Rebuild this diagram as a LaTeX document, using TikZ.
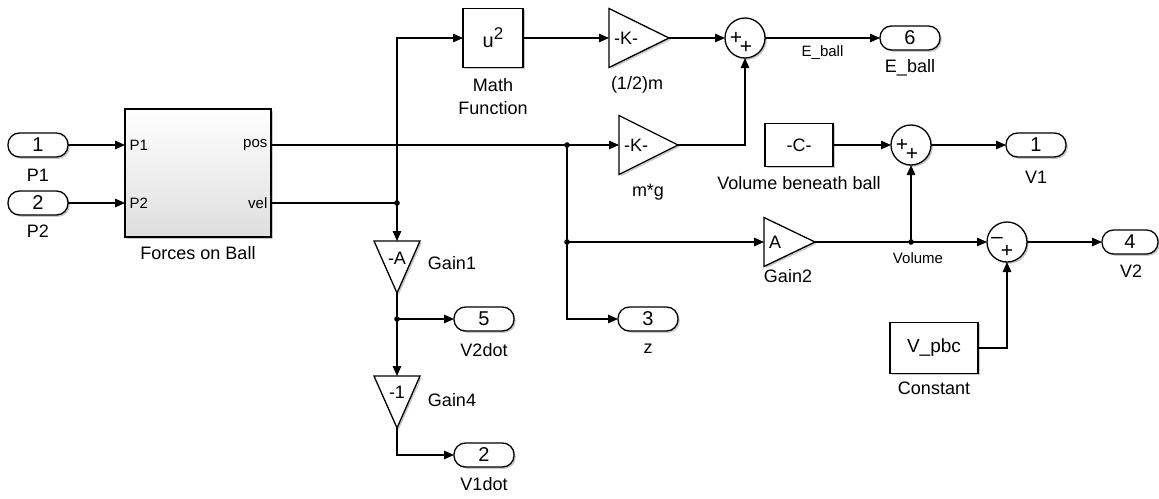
\documentclass[tikz,border=0pt]{standalone}
\usepackage{fontspec}
\setmainfont{Liberation Sans}
\usetikzlibrary{arrows.meta,shapes.geometric,shadows,calc}
\begin{document}
\begin{tikzpicture}[x=1pt,y=-1pt,
  line width=1.3pt,
  sig/.style={-{Triangle[length=10pt,width=8.5pt]}},
  shad/.style={drop shadow={shadow xshift=1.8pt,shadow yshift=-1.8pt,opacity=0.3,fill=black!70}},
  blk/.style={draw,fill=white,shad,inner sep=0pt,outer sep=0pt},
  port/.style={blk,rounded corners=11.5pt,minimum width=60pt,minimum height=24pt,font=\fontsize{20}{20}\selectfont},
  sumblk/.style={blk,circle,minimum size=40pt},
  gain/.style={draw,fill=white,shad,isosceles triangle,isosceles triangle stretches,inner sep=0pt,outer sep=0pt,anchor=lower side},
  gtxt/.style={inner sep=0pt,font=\fontsize{18}{18}\selectfont},
  lbl/.style={inner sep=0pt,font=\fontsize{18}{23}\selectfont},
  small/.style={inner sep=0pt,font=\fontsize{15}{15}\selectfont},
  sgn/.style={inner sep=0pt,font=\fontsize{21}{21}\selectfont}
]
\useasboundingbox (0,0) rectangle (1159,498);

% inports
\node[port] (in1) at (38,145) {1};
\node[port] (in2) at (38,203) {2};
\node[lbl] (in1l) at (38,175) {P1};
\node[lbl] (in2l) at (38,231) {P2};

% Forces on Ball
\node[draw,shad,top color=white,bottom color=black!13,inner sep=0pt,outer sep=0pt,minimum width=146pt,minimum height=128pt] (fob) at (198,173) {};
\node[small,anchor=west] (fp1) at (129,145) {P1};
\node[small,anchor=west] (fp2) at (129,203) {P2};
\node[small,anchor=east] (fpos) at (268,145) {pos};
\node[small,anchor=east] (fvel) at (268,203) {vel};
\node[lbl] (fobl) at (198,253) {Forces on Ball};

% Math function and gains
\node[blk,minimum width=60pt,minimum height=59pt,font=\fontsize{20}{20}\selectfont] (mathf) at (493,38) {u\raisebox{8pt}{\fontsize{17}{17}\selectfont 2}};
\node[lbl,align=center] (mathl) at (493,97) {Math\\Function};

\node[gain,minimum width=59pt,minimum height=60pt] (half) at (609,38) {};
\node[gtxt] (halft) at (626,38) {-K-};
\node[lbl] (halfl) at (637,85) {(1/2)m};

\node[gain,minimum width=59pt,minimum height=59pt] (mg) at (619,145) {};
\node[gtxt] (mgt) at (636,145) {-K-};
\node[lbl] (mgl) at (648,192) {m*g};

\node[gain,minimum width=49pt,minimum height=51pt] (g2) at (764,242) {};
\node[gtxt] (g2t) at (775,242) {A};
\node[lbl] (g2l) at (788,276) {Gain2};

\node[gain,rotate=-90,minimum width=46pt,minimum height=52pt] (g1) at (397,241) {};
\node[gtxt] (g1t) at (397,258) {-A};
\node[lbl] (g1l) at (452,263) {Gain1};

\node[gain,rotate=-90,minimum width=46pt,minimum height=52pt] (g4) at (397,376) {};
\node[gtxt] (g4t) at (397,392) {-1};
\node[lbl] (g4l) at (452,400) {Gain4};

% sums
\node[sumblk] (sum1) at (745,38) {};
\node[sgn] (s1a) at ($(sum1)+(-9,0)$) {+};
\node[sgn] (s1b) at ($(sum1)+(1,9)$) {+};
\node[sumblk] (sum2) at (911,145) {};
\node[sgn] (s2a) at ($(sum2)+(-9,0)$) {+};
\node[sgn] (s2b) at ($(sum2)+(1,9)$) {+};
\node[sumblk] (sum3) at (1007,242) {};
\node[sgn] (s3a) at ($(sum3)+(-10,-2)$) {–};
\node[sgn] (s3b) at ($(sum3)+(0,9)$) {+};

% constants
\node[blk,minimum width=68pt,minimum height=43pt,font=\fontsize{18}{18}\selectfont] (cblk) at (799,145) {-C-};
\node[lbl] (cblkl) at (799,183) {Volume beneath ball};
\node[blk,minimum width=88pt,minimum height=51pt,font=\fontsize{19}{19}\selectfont] (const) at (934,348) {V\_pbc};
\node[lbl] (constl) at (934,388) {Constant};

% outports
\node[port] (out6) at (910,38) {6};
\node[lbl] (out6l) at (910,68) {E\_ball};
\node[port] (out1) at (1036,145) {1};
\node[lbl] (out1l) at (1036,177) {V1};
\node[port,minimum width=56pt] (out4) at (1130,242) {4};
\node[lbl] (out4l) at (1131,271) {V2};
\node[port] (out5) at (484,319) {5};
\node[lbl] (out5l) at (484,350) {V2dot};
\node[port] (out3) at (648,319) {3};
\node[lbl] (out3l) at (648,349) {z};
\node[port] (out2) at (484,455) {2};
\node[lbl] (out2l) at (484,484) {V1dot};

% junctions
\coordinate (j1) at (397,203);
\coordinate (j2) at (567,145);
\coordinate (j3) at (567,242);
\coordinate (j4) at (397,319);
\coordinate (j5) at (911,242);

% connectors
\draw[sig] (in1.east) -- (in1.east -| fob.west);
\draw[sig] (in2.east) -- (in2.east -| fob.west);
\draw (fob.east |- j2) -- (j2);
\draw (fob.east |- j1) -- (j1);
\draw[sig] (j1) |- (mathf.west);
\draw[sig] (j1) -- (g1.lower side);
\draw[sig] (mathf.east) -- (half.lower side);
\draw[sig] (half.apex) -- (sum1.west);
\draw[sig] (mg.apex) -| (sum1.south);
\draw[sig] (sum1.east) -- (out6.west) node[small,midway,below=7pt] (eline) {E\_ball};
\draw[sig] (j2) -- (mg.lower side);
\draw (j2) -- (j3);
\draw[sig] (j3) |- (out3.west);
\draw[sig] (j3) -- (g2.lower side);
\draw (g2.apex) -- (j5);
\draw[sig] (j5) -- (sum3.west);
\draw[sig] (j5) -- (sum2.south);
\draw[sig] (cblk.east) -- (sum2.west);
\draw[sig] (sum2.east) -- (out1.west);
\draw[sig] (sum3.east) -- (out4.west);
\draw[sig] (const.east) -| (sum3.south);
\draw (g1.apex) -- (j4);
\draw[sig] (j4) -- (out5.west);
\draw[sig] (j4) -- (g4.lower side);
\draw[sig] (g4.apex) |- (out2.west);
\node[small] (voll) at (918,258) {Volume};

\foreach \j in {j1,j2,j3,j4,j5} \fill (\j) circle (2.8pt);
\end{tikzpicture}
\end{document}
